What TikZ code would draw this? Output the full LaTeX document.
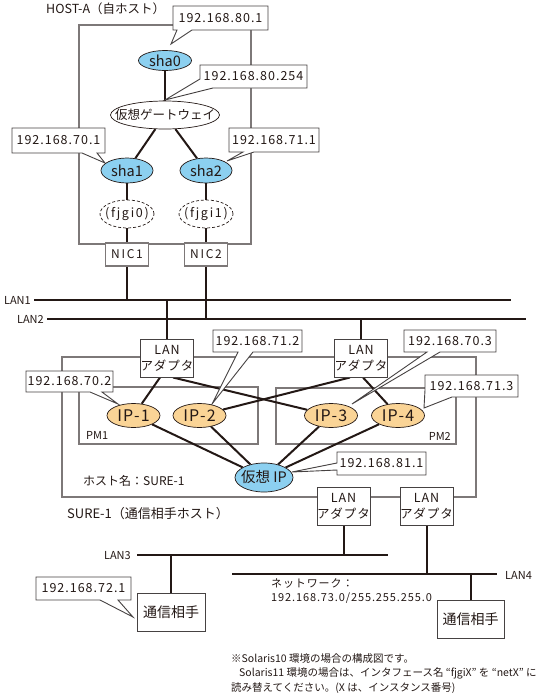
\documentclass[tikz,border=0pt]{standalone}
\usepackage{fontspec}
\setmainfont{Noto Sans CJK JP}
\newfontfamily\ipfont[LetterSpace=8]{Noto Sans CJK JP}
\newfontfamily\widefont[LetterSpace=14]{Noto Sans CJK JP}
\usetikzlibrary{calc,shapes.geometric}
\pgfdeclarelayer{back}
\pgfdeclarelayer{mid}
\pgfsetlayers{back,mid,main}
\definecolor{ink}{RGB}{35,24,21}
\definecolor{framegray}{RGB}{125,120,120}
\definecolor{boxline}{RGB}{70,66,66}
\definecolor{skyfill}{RGB}{140,208,240}
\definecolor{orfill}{RGB}{250,212,150}
\newcommand{\zw}[1]{\makebox[0pt]{#1}}
\begin{document}
\begin{tikzpicture}[x=1pt,y=-1pt,
  every node/.style={text=ink},
  frameline/.style={draw=framegray, line width=1.5pt},
  conn/.style={draw=ink, line width=2pt},
  lanline/.style={draw=ink, line width=2pt},
  skyell/.style={ellipse, draw=ink, line width=0.7pt, fill=skyfill, inner sep=0pt},
  ipell/.style={ellipse, draw=ink, line width=0.7pt, fill=orfill, inner sep=0pt, minimum width=53pt, minimum height=24pt, font=\ipfont\fontsize{16}{16}\selectfont},
  dashell/.style={ellipse, draw=ink, dash pattern=on 3pt off 2pt, line width=0.7pt, fill=white, inner sep=0pt, minimum width=54pt, minimum height=28pt, font=\widefont\fontsize{12.5}{12.5}\selectfont},
  nicbox/.style={draw=framegray, line width=1.3pt, fill=white, inner sep=0pt, minimum width=43pt, minimum height=23pt, font=\widefont\fontsize{12}{12}\selectfont},
  adapter/.style={draw=boxline, line width=1pt, fill=white, inner sep=0pt, minimum width=53pt, minimum height=38pt, align=center, font=\ipfont\fontsize{12.5}{16}\selectfont},
  peerbox/.style={draw=boxline, line width=1pt, fill=white, inner sep=0pt, minimum width=68pt, minimum height=38pt, font=\fontsize{14}{14}\selectfont},
  callshape/.style={draw=boxline, line width=0.9pt, fill=white},
  iptext/.style={font=\ipfont\fontsize{12.5}{12.5}\selectfont, inner sep=0pt},
  lbl/.style={inner sep=0pt, font=\fontsize{11}{11}\selectfont},
  titletext/.style={inner sep=0pt, font=\fontsize{12.5}{12.5}\selectfont},
]
\useasboundingbox (0,0) rectangle (548,697);

% ---------- HOST-A nodes
\node[skyell, minimum width=53pt, minimum height=20pt, font=\fontsize{14.5}{14.5}\selectfont] (sha0) at (165,60.5) {sha0};
\node[ellipse, draw=ink, line width=0.7pt, fill=white, inner sep=0pt, minimum width=109pt, minimum height=28pt, font=\fontsize{12.5}{12.5}\selectfont] (gw) at (165,115) {\zw{仮想ゲートウェイ}};
\node[skyell, minimum width=52pt, minimum height=25pt, font=\fontsize{14.5}{14.5}\selectfont] (sha1) at (127,170.5) {sha1};
\node[skyell, minimum width=52pt, minimum height=25pt, font=\fontsize{14.5}{14.5}\selectfont] (sha2) at (206,170.5) {sha2};
\node[dashell] (fj0) at (127,214) {\zw{(fjgi0)}};
\node[dashell] (fj1) at (206,214) {\zw{(fjgi1)}};
\node[nicbox] (nic1) at (127,254.5) {NIC1};
\node[nicbox] (nic2) at (206,254.5) {NIC2};
\node[titletext, anchor=west] (hosta) at (46,9) {HOST-A（自ホスト）};

% ---------- LAN lines
\coordinate (l1w) at (34,300);  \coordinate (l1e) at (511,300);
\coordinate (l2w) at (47,319);  \coordinate (l2e) at (526,319);
\coordinate (l3w) at (137,555); \coordinate (l3e) at (388,555);
\coordinate (l4w) at (232,574); \coordinate (l4e) at (497,574);
\node[lbl, anchor=east] (lan1) at (31,300) {LAN1};
\node[lbl, anchor=east] (lan2) at (44,319) {LAN2};
\node[lbl, anchor=east] (lan3) at (131,556) {LAN3};
\node[lbl, anchor=west] (lan4) at (505,575) {LAN4};

% ---------- SURE-1 nodes
\node[adapter] (adL) at (167,358) {LAN\\アダプタ};
\node[adapter] (adR) at (361,358) {LAN\\アダプタ};
\node[ipell] (ip1) at (133.5,415.5) {\zw{IP-1}};
\node[ipell] (ip2) at (199.5,415.5) {\zw{IP-2}};
\node[ipell] (ip3) at (331,415.5) {\zw{IP-3}};
\node[ipell] (ip4) at (398,415.5) {\zw{IP-4}};
\node[skyell, minimum width=58pt, minimum height=29pt, font=\fontsize{14.5}{14.5}\selectfont] (vip) at (264,477.5) {\zw{仮想 IP}};
\node[adapter] (adB1) at (343.5,506.5) {LAN\\アダプタ};
\node[adapter] (adB2) at (426.5,506.5) {LAN\\アダプタ};
\node[lbl, anchor=west] (pm1) at (86,435) {PM1};
\node[lbl, anchor=east] (pm2) at (451,436) {PM2};
\node[titletext, anchor=west, font=\fontsize{12}{12}\selectfont] (hname) at (83,481) {ホスト名：SURE-1};
\node[titletext, anchor=west, font=\fontsize{13}{13}\selectfont] (sure) at (67,514) {SURE-1（通信相手ホスト）};

% ---------- peers
\node[peerbox] (peer1) at (171,612) {通信相手};
\node[peerbox, minimum width=67pt] (peer2) at (470.5,619) {通信相手};
\node[lbl, anchor=west, align=left, font=\ipfont\fontsize{11}{14}\selectfont] (net) at (271,591) {ネットワーク：\\192.168.73.0/255.255.255.0};

% ---------- footnote
\node[anchor=north west, inner sep=0pt, align=left, font=\fontsize{10.5}{14.5}\selectfont] (note) at (231,653)
 {※Solaris10 環境の場合の構成図です。\\
  \hspace*{8pt}Solaris11 環境の場合は、インタフェース名 “fjgiX” を “netX” に\\
  読み替えてください。(X は、インスタンス番号)};

% ---------- callout texts
\node[iptext] (c801)  at (220.5,18)   {192.168.80.1};
\node[iptext] (c8025) at (253.5,76.5) {192.168.80.254};
\node[iptext] (c701)  at (58.5,140.5) {192.168.70.1};
\node[iptext] (c711)  at (274,140)    {192.168.71.1};
\node[iptext] (c702)  at (69.5,381.5) {192.168.70.2};
\node[iptext] (c712)  at (257.5,341)  {192.168.71.2};
\node[iptext] (c703)  at (450,341)    {192.168.70.3};
\node[iptext] (c713)  at (471.5,386)  {192.168.71.3};
\node[iptext] (c811)  at (381.5,463.5){192.168.81.1};
\node[iptext] (c721)  at (83.5,588.5) {192.168.72.1};

% ---------- callout shapes
\begin{pgfonlayer}{mid}
\draw[callshape] (173,6) -- (268,6) -- (268,30) -- (192,30) -- (171,44) -- (177,30) -- (173,30) -- cycle;
\draw[callshape] (200,65) -- (307,65) -- (307,88) -- (213,88) -- (165,100) -- (200,79) -- cycle;
\draw[callshape] (12,128) -- (105,128) -- (105,153) -- (97,153) -- (105,163) -- (82,153) -- (12,153) -- cycle;
\draw[callshape] (229,128) -- (319,128) -- (319,152) -- (254,152) -- (227,161) -- (243,152) -- (229,152) -- cycle;
\draw[callshape] (26,371) -- (113,371) -- (113,392) -- (102,392) -- (118,404) -- (90,392) -- (26,392) -- cycle;
\draw[callshape] (213,330) -- (302,330) -- (302,352) -- (253,352) -- (212,404) -- (238,352) -- (213,352) -- cycle;
\draw[callshape] (404,330) -- (496,330) -- (496,352) -- (440,352) -- (352,404) -- (427,352) -- (404,352) -- cycle;
\draw[callshape] (425,375) -- (518,375) -- (518,397) -- (452,397) -- (424,408) -- (425,390) -- cycle;
\draw[callshape] (337,452) -- (426,452) -- (426,475) -- (337,475) -- (337,470) -- (292,472) -- (337,463) -- cycle;
\draw[callshape] (36,577) -- (131,577) -- (131,600) -- (118,600) -- (133,617) -- (100,600) -- (36,600) -- cycle;
\end{pgfonlayer}

% ---------- frames, lines, connectors
\begin{pgfonlayer}{back}
\draw[frameline] (79,25) rectangle (251,244);
\draw[frameline] (62,357) rectangle (476,497);
\draw[frameline] (79,387) rectangle (258,444);
\draw[frameline] (276,388) rectangle (456,444);
\draw[lanline] (l1w) -- (l1e);
\draw[lanline] (l2w) -- (l2e);
\draw[lanline] (l3w) -- (l3e);
\draw[lanline] (l4w) -- (l4e);
\draw[conn] (sha0) -- (gw);
\draw[conn] (gw) -- (sha1);
\draw[conn] (gw) -- (sha2);
\draw[conn] (sha1) -- (fj0);
\draw[conn] (sha2) -- (fj1);
\draw[conn] (fj0) -- (nic1);
\draw[conn] (fj1) -- (nic2);
\draw[conn] (nic1.south) -- (nic1.south |- l1w);
\draw[conn] (nic2.south) -- (nic2.south |- l2w);
\draw[conn] (adL.north) -- (adL.north |- l1w);
\draw[conn] (adR.north) -- (adR.north |- l2w);
\draw[conn] ($(adL.south)+(-7,0)$) -- (ip1);
\draw[conn] ($(adL.south)+(6,0)$) -- (ip3);
\draw[conn] ($(adR.south)+(-11,0)$) -- (ip2);
\draw[conn] ($(adR.south)+(2,0)$) -- (ip4);
\draw[conn] (ip1) -- (vip);
\draw[conn] (ip2) -- (vip);
\draw[conn] (ip3) -- (vip);
\draw[conn] (ip4) -- (vip);
\draw[conn] (adB1.south) -- (adB1.south |- l3w);
\draw[conn] (adB2.south) -- (adB2.south |- l4w);
\draw[conn] (peer1.north) -- (peer1.north |- l3w);
\draw[conn] (peer2.north) -- (peer2.north |- l4w);
\end{pgfonlayer}
\end{tikzpicture}
\end{document}
